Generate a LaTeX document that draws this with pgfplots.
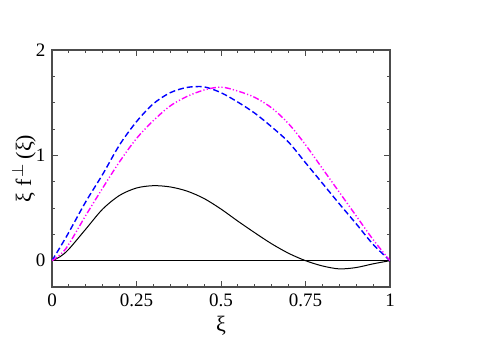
\documentclass[border=0pt]{standalone}
\usepackage{fontspec}
\setmainfont{Liberation Serif}
\usepackage{pgfplots}
\pgfplotsset{compat=1.18}
\definecolor{mag}{RGB}{255,0,255}
\definecolor{blu}{RGB}{0,0,255}
\begin{document}
\fontsize{9.5}{11}\selectfont
\begin{tikzpicture}
\useasboundingbox (0,0) rectangle (240pt,169.5pt);
\begin{axis}[
  at={(26pt,26pt)}, anchor=south west,
  scale only axis, width=169pt, height=118.5pt,
  xmin=0, xmax=1, ymin=-0.25, ymax=2,
  xtick={0,0.25,0.5,0.75,1},
  xticklabels={0,0.25,0.5,0.75,1},
  ytick={0,1,2},
  minor x tick num=4, minor y tick num=3,
  tick align=inside,
  major tick length=3pt, minor tick length=1.6pt,
  every tick/.style={black!70, line width=0.5pt},
  axis line style={black!70, line width=0.7pt},
  /pgf/number format/assume math mode=true,
  tick label style={font=\fontsize{9.5}{11}\selectfont},
  xlabel={ξ}, ylabel={ξ f\textsuperscript{\,$\perp$}\,(ξ)},
  label style={font=\fontsize{11}{12}\selectfont},
  xlabel style={yshift=2pt},
  ylabel style={yshift=-6.5pt},
  clip=true,
]
\addplot[black, line width=0.5pt] coordinates {(0,0) (1,0)};
\addplot[black, line width=0.5pt, smooth] coordinates {
(0,0) (0.025,0.04) (0.05,0.11) (0.1,0.30) (0.15,0.49) (0.2,0.62) (0.25,0.69)
(0.3,0.712) (0.35,0.70) (0.4,0.66) (0.45,0.59) (0.5,0.49) (0.55,0.375) (0.6,0.265)
(0.65,0.16) (0.7,0.07) (0.75,0.0) (0.8,-0.05) (0.85,-0.078) (0.9,-0.065)
(0.95,-0.03) (1,0)};
\addplot[blu, line width=0.7pt, smooth, dash pattern=on 3pt off 1.5pt] coordinates {
(0,0) (0.03,0.16) (0.05,0.27) (0.1,0.56) (0.15,0.82) (0.2,1.10) (0.25,1.32)
(0.3,1.49) (0.35,1.595) (0.4,1.645) (0.45,1.65) (0.5,1.595) (0.55,1.505)
(0.6,1.40) (0.65,1.27) (0.7,1.125) (0.75,0.93) (0.8,0.735) (0.85,0.54)
(0.9,0.35) (0.95,0.155) (1,0)};
\addplot[mag, line width=0.7pt, smooth,
  dash pattern=on 3pt off 1.1pt on 0.6pt off 1.1pt on 0.6pt off 1.1pt] coordinates {
(0,0) (0.04,0.11) (0.1,0.43) (0.15,0.69) (0.2,0.94) (0.25,1.16) (0.3,1.33)
(0.35,1.47) (0.4,1.56) (0.45,1.62) (0.5,1.648) (0.55,1.61) (0.6,1.55)
(0.65,1.45) (0.7,1.30) (0.75,1.10) (0.8,0.875) (0.85,0.65) (0.9,0.425)
(0.95,0.20) (1,0)};
\end{axis}
\end{tikzpicture}
\end{document}
